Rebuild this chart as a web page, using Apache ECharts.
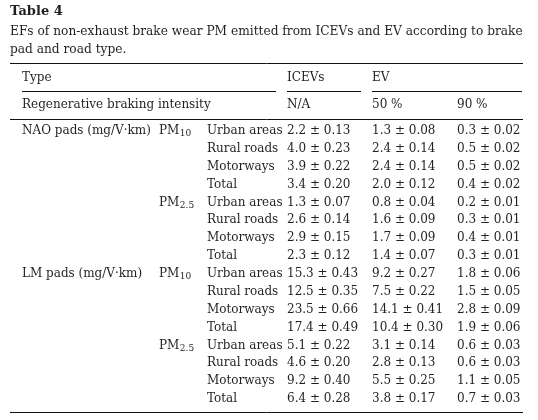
<!DOCTYPE html>
<html><head><meta charset="utf-8">
<script src="https://cdn.jsdelivr.net/npm/echarts@6/dist/echarts.min.js"></script>
<style>html,body{margin:0;padding:0;background:#fff}#c{width:538px;height:420px}</style>
</head><body><div id="c"></div>
<script>
// ---- data ----
const titleText = 'Table 4';
const captionLines = ['EFs of non-exhaust brake wear PM emitted from ICEVs and EV according to brake', 'pad and road type.'];
const headerRow1 = ['Type', 'ICEVs', 'EV'];
const headerRow2 = ['Regenerative braking intensity', 'N/A', '50 %', '90 %'];
const padTypes = ['NAO pads (mg/V·km)', 'LM pads (mg/V·km)'];
const pmTypes = [['PM', '10'], ['PM', '2.5']];
const roadTypes = ['Urban areas', 'Rural roads', 'Motorways', 'Total'];
const icevMean = [2.2, 4.0, 3.9, 3.4, 1.3, 2.6, 2.9, 2.3, 15.3, 12.5, 23.5, 17.4, 5.1, 4.6, 9.2, 6.4];
const icevSd   = [0.13, 0.23, 0.22, 0.20, 0.07, 0.14, 0.15, 0.12, 0.43, 0.35, 0.66, 0.49, 0.22, 0.20, 0.40, 0.28];
const ev50Mean = [1.3, 2.4, 2.4, 2.0, 0.8, 1.6, 1.7, 1.4, 9.2, 7.5, 14.1, 10.4, 3.1, 2.8, 5.5, 3.8];
const ev50Sd   = [0.08, 0.14, 0.14, 0.12, 0.04, 0.09, 0.09, 0.07, 0.27, 0.22, 0.41, 0.30, 0.14, 0.13, 0.25, 0.17];
const ev90Mean = [0.3, 0.5, 0.5, 0.4, 0.2, 0.3, 0.4, 0.3, 1.8, 1.5, 2.8, 1.9, 0.6, 0.6, 1.1, 0.7];
const ev90Sd   = [0.02, 0.02, 0.02, 0.02, 0.01, 0.01, 0.01, 0.01, 0.06, 0.05, 0.09, 0.06, 0.03, 0.03, 0.05, 0.03];

// ---- layout / style ----
const FONT = 'DejaVu Serif';
const FS = 12;
const COLOR = '#231f20';
const colX = [22, 159, 207, 287, 372, 457];  // column left edges (axis units = px)
const nRows = icevMean.length;
const rowCats = Array.from({length: nRows}, (_, i) => 'r' + i);

// build cells
const cells = [];
for (let i = 0; i < nRows; i++) {
  const pad = Math.floor(i / 8), pm = Math.floor(i / 4) % 2, road = i % 4;
  if (i % 8 === 0) cells.push({col: 0, row: i, text: padTypes[pad]});
  if (i % 4 === 0) cells.push({col: 1, row: i, pm: pmTypes[pm]});
  cells.push({col: 2, row: i, text: roadTypes[road]});
  cells.push({col: 3, row: i, text: icevMean[i].toFixed(1) + ' ± ' + icevSd[i].toFixed(2)});
  cells.push({col: 4, row: i, text: ev50Mean[i].toFixed(1) + ' ± ' + ev50Sd[i].toFixed(2)});
  cells.push({col: 5, row: i, text: ev90Mean[i].toFixed(1) + ' ± ' + ev90Sd[i].toFixed(2)});
}

const mctx = document.createElement('canvas').getContext('2d');
function textW(t, size) { mctx.font = size + 'px "' + FONT + '"'; return mctx.measureText(t).width; }

function txt(x, y, t, extra) {
  return {type: 'text', x: x, y: y, style: Object.assign({text: t, fill: COLOR, font: FS + 'px "' + FONT + '"', textVerticalAlign: 'middle', textAlign: 'left'}, extra || {})};
}
function hline(x1, x2, y) {
  return {type: 'line', shape: {x1: x1, y1: y, x2: x2, y2: y}, style: {stroke: '#111', lineWidth: 1}};
}

const chart = echarts.init(document.getElementById('c'), null, {renderer: 'canvas'});
chart.setOption({
  animation: false,
  grid: {left: 0, right: 0, top: 122.1, bottom: 12.1},
  xAxis: {type: 'value', min: 0, max: 538, show: false},
  yAxis: {type: 'category', data: rowCats, inverse: true, show: false},
  graphic: [
    txt(10, 12, titleText, {font: 'bold 13px "' + FONT + '"'}),
    txt(10, 32, captionLines[0], {font: '12.2px "' + FONT + '"'}),
    txt(10, 50, captionLines[1], {font: '12.2px "' + FONT + '"'}),
    hline(10, 523, 63.5),
    txt(colX[0], 78, headerRow1[0]),
    txt(colX[3], 78, headerRow1[1]),
    txt(colX[4], 78, headerRow1[2]),
    hline(22, 276, 91.5), hline(287, 361, 91.5), hline(372, 522, 91.5),
    txt(colX[0], 105, headerRow2[0]),
    txt(colX[3], 105, headerRow2[1]),
    txt(colX[4], 105, headerRow2[2]),
    txt(colX[5], 105, headerRow2[3]),
    hline(10, 523, 119.5),
    hline(10, 523, 412.5)
  ],
  series: [{
    type: 'custom',
    coordinateSystem: 'cartesian2d',
    data: cells.map(c => [colX[c.col], c.row]),
    renderItem: function (params, api) {
      const c = cells[params.dataIndex];
      const p = api.coord([api.value(0), api.value(1)]);
      if (c.pm) {
        const w = textW(c.pm[0], FS);
        return {type: 'group', children: [
          txt(p[0], p[1], c.pm[0]),
          txt(p[0] + w + 0.5, p[1] + 3, c.pm[1], {font: '9px "' + FONT + '"'})
        ]};
      }
      return txt(p[0], p[1], c.text);
    }
  }]
});
</script></body></html>
